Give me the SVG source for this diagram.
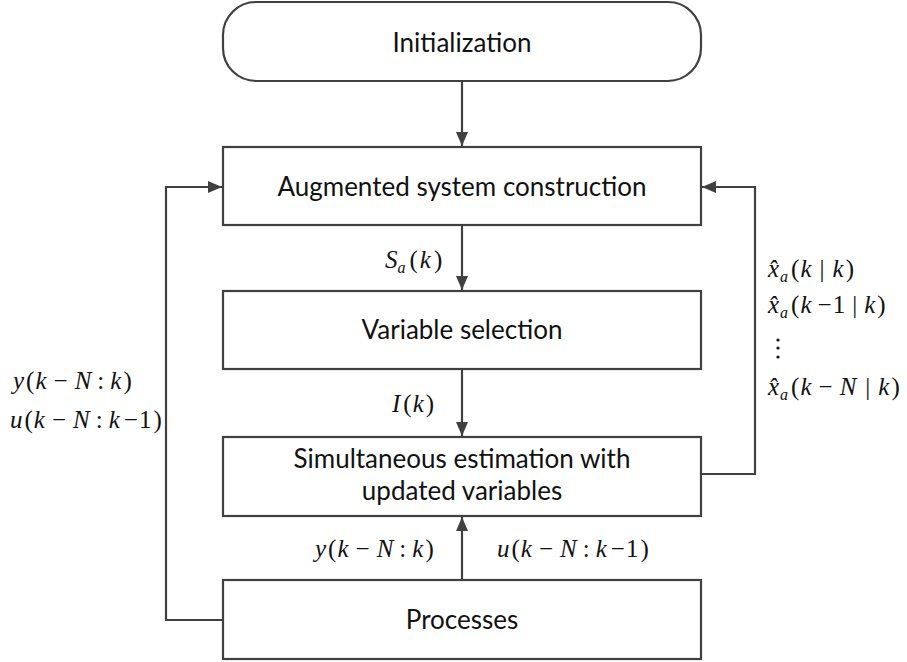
<svg xmlns="http://www.w3.org/2000/svg" width="907" height="662" viewBox="0 0 907 662">
<style>
.box{fill:#fff;stroke:#404040;stroke-width:2.2}
.ln{fill:none;stroke:#404040;stroke-width:2.2}
.t{font-family:Lato,"Open Sans",sans-serif;font-size:26px;fill:#111;text-anchor:middle}
.m{font-family:"Liberation Serif","Times New Roman",serif;font-size:25px;fill:#111}
.i{font-style:italic}
.s{font-size:16px;font-style:italic}
</style>
<defs>
<marker id="ah" viewBox="0 0 14 12" refX="14" refY="6" markerWidth="14" markerHeight="12" markerUnits="userSpaceOnUse" orient="auto">
<path d="M0,0 L14,6 L0,12 Z" fill="#404040"/>
</marker>
</defs>
<g id="connectors">
<line class="ln" x1="462" y1="81" x2="462" y2="146" marker-end="url(#ah)"/>
<line class="ln" x1="462" y1="225" x2="462" y2="290" marker-end="url(#ah)"/>
<line class="ln" x1="462" y1="369" x2="462" y2="436" marker-end="url(#ah)"/>
<line class="ln" x1="462" y1="580" x2="462" y2="517" marker-end="url(#ah)"/>
<polyline class="ln" points="223,620 166,620 166,187 222,187" marker-end="url(#ah)"/>
<polyline class="ln" points="701,474 755,474 755,187 702,187" marker-end="url(#ah)"/>
</g>
<g id="init">
<rect class="box" x="223" y="2" width="478" height="79" rx="33" ry="33"/>
<text class="t" x="462" y="52">Initialization</text>
</g>
<g id="augmented">
<rect class="box" x="223" y="147" width="478" height="78"/>
<text class="t" x="462" y="196">Augmented system construction</text>
</g>
<g id="variable">
<rect class="box" x="223" y="291" width="478" height="78"/>
<text class="t" x="462" y="339">Variable selection</text>
</g>
<g id="simultaneous">
<rect class="box" x="223" y="437" width="478" height="79"/>
<text class="t" x="462" y="468">Simultaneous estimation with</text>
<text class="t" x="462" y="500">updated variables</text>
</g>
<g id="processes">
<rect class="box" x="223" y="580" width="478" height="79"/>
<text class="t" x="462" y="629">Processes</text>
</g>
<g id="labels">
<text class="m" x="385" y="268"><tspan class="i">S</tspan><tspan class="s" dy="5">a</tspan><tspan dy="-5" dx="4">(</tspan><tspan class="i" dx="2">k</tspan><tspan dx="3">)</tspan></text>
<text class="m" x="392" y="412"><tspan class="i">I</tspan><tspan dx="3">(</tspan><tspan class="i" dx="1">k</tspan><tspan dx="2">)</tspan></text>
<text class="m" x="13" y="389"><tspan class="i">y</tspan><tspan dx="2">(</tspan><tspan class="i" dx="1">k</tspan><tspan dx="7">−</tspan><tspan class="i" dx="7">N</tspan><tspan dx="6">:</tspan><tspan class="i" dx="6">k</tspan><tspan dx="2">)</tspan></text>
<text class="m" x="10" y="428"><tspan class="i">u</tspan><tspan dx="2">(</tspan><tspan class="i" dx="1">k</tspan><tspan dx="7">−</tspan><tspan class="i" dx="7">N</tspan><tspan dx="6">:</tspan><tspan class="i" dx="6">k</tspan><tspan dx="4">−</tspan><tspan dx="1">1</tspan><tspan dx="2">)</tspan></text>
<text class="m" x="315" y="557"><tspan class="i">y</tspan><tspan dx="2">(</tspan><tspan class="i" dx="1">k</tspan><tspan dx="7">−</tspan><tspan class="i" dx="7">N</tspan><tspan dx="6">:</tspan><tspan class="i" dx="6">k</tspan><tspan dx="2">)</tspan></text>
<text class="m" x="497" y="557"><tspan class="i">u</tspan><tspan dx="2">(</tspan><tspan class="i" dx="1">k</tspan><tspan dx="7">−</tspan><tspan class="i" dx="7">N</tspan><tspan dx="6">:</tspan><tspan class="i" dx="6">k</tspan><tspan dx="4">−</tspan><tspan dx="1">1</tspan><tspan dx="2">)</tspan></text>
<text class="m" x="768" y="277"><tspan class="i">x̂</tspan><tspan class="s" dy="5" dx="1">a</tspan><tspan dy="-5" dx="3">(</tspan><tspan class="i" dx="1">k</tspan><tspan dx="8">|</tspan><tspan class="i" dx="8">k</tspan><tspan dx="2">)</tspan></text>
<text class="m" x="768" y="313"><tspan class="i">x̂</tspan><tspan class="s" dy="5" dx="1">a</tspan><tspan dy="-5" dx="3">(</tspan><tspan class="i" dx="1">k</tspan><tspan dx="6">−</tspan><tspan dx="1">1</tspan><tspan dx="7">|</tspan><tspan class="i" dx="7">k</tspan><tspan dx="2">)</tspan></text>
<circle cx="778" cy="340" r="1.6" fill="#111"/>
<circle cx="778" cy="348" r="1.6" fill="#111"/>
<circle cx="778" cy="357" r="1.6" fill="#111"/>
<text class="m" x="768" y="395"><tspan class="i">x̂</tspan><tspan class="s" dy="5" dx="1">a</tspan><tspan dy="-5" dx="3">(</tspan><tspan class="i" dx="1">k</tspan><tspan dx="7">−</tspan><tspan class="i" dx="7">N</tspan><tspan dx="9">|</tspan><tspan class="i" dx="8">k</tspan><tspan dx="2">)</tspan></text>
</g>
</svg>
